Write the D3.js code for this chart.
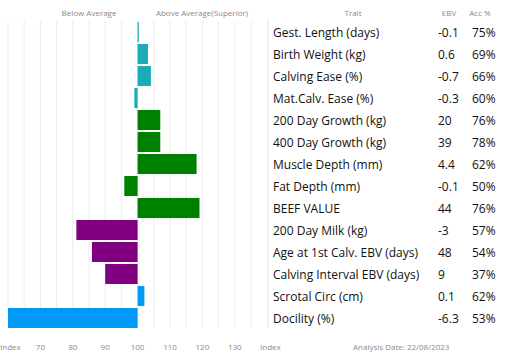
<!DOCTYPE html>
<html>
<head>
  <meta charset="utf-8">
  <script src="https://d3js.org/d3.v7.min.js"></script>
  <style>
    body { margin: 0; background: #fff; }
    text { font-family: "Open Sans", sans-serif; }
    .small { font-size: 8px; fill: #8a8a8a; }
    .trait { font-size: 12px; fill: #111; }
  </style>
</head>
<body>
<svg id="chart" width="522" height="362"></svg>
<script>
// trait names, index values, EBV, accuracy
const traits = ["Gest. Length (days)", "Birth Weight (kg)", "Calving Ease (%)", "Mat.Calv. Ease (%)",
  "200 Day Growth (kg)", "400 Day Growth (kg)", "Muscle Depth (mm)", "Fat Depth (mm)", "BEEF VALUE",
  "200 Day Milk (kg)", "Age at 1st Calv. EBV (days)", "Calving Interval EBV (days)", "Scrotal Circ (cm)", "Docility (%)"];
const indexVals = [100.3, 103.2, 104.1, 99.0, 107.0, 107.0, 118.2, 95.9, 119.1, 81.1, 85.9, 90.0, 102.1, 60.0];
const ebv = ["-0.1", "0.6", "-0.7", "-0.3", "20", "39", "4.4", "-0.1", "44", "-3", "48", "9", "0.1", "-6.3"];
const acc = ["75%", "69%", "66%", "60%", "76%", "78%", "62%", "50%", "76%", "57%", "54%", "37%", "62%", "53%"];
const groups = ["calving", "calving", "calving", "calving", "growth", "growth", "growth", "growth", "growth",
  "maternal", "maternal", "maternal", "other", "other"];
const xTicks = [70, 80, 90, 100, 110, 120, 130];

const colours = { calving: "#1aadb6", growth: "#008000", maternal: "#800080", other: "#0099f5" };

const svg = d3.select("#chart");
const x = d3.scaleLinear().domain([60, 135]).range([8, 251]);
const y = d3.scaleBand().domain(traits).range([21, 329]).paddingInner(0.09).paddingOuter(0.045);

// gridlines every 5
svg.append("g").selectAll("line").data(d3.range(60, 136, 5)).join("line")
  .attr("x1", d => x(d)).attr("x2", d => x(d))
  .attr("y1", 21).attr("y2", 328)
  .attr("stroke", "#ececec").attr("stroke-width", 1);

// bars
svg.append("g").selectAll("rect").data(traits).join("rect")
  .attr("x", (d, i) => x(Math.min(100, indexVals[i])))
  .attr("y", d => y(d))
  .attr("width", (d, i) => Math.max(1.2, Math.abs(x(indexVals[i]) - x(100))))
  .attr("height", y.bandwidth())
  .attr("fill", (d, i) => colours[groups[i]]);

// headers
svg.append("text").attr("class", "small").attr("x", 89).attr("y", 16).attr("text-anchor", "middle").text("Below Average");
svg.append("text").attr("class", "small").attr("x", 202).attr("y", 16).attr("text-anchor", "middle").text("Above Average(Superior)");
svg.append("text").attr("class", "small").attr("x", 353).attr("y", 16).attr("text-anchor", "middle").text("Trait");
svg.append("text").attr("class", "small").attr("x", 449).attr("y", 16).attr("text-anchor", "middle").text("EBV");
svg.append("text").attr("class", "small").attr("x", 480).attr("y", 16).attr("text-anchor", "middle").text("Acc %");

// x axis labels
svg.append("g").selectAll("text").data(xTicks).join("text")
  .attr("class", "small").attr("x", d => x(d)).attr("y", 350).attr("text-anchor", "middle").text(d => d);
svg.append("text").attr("class", "small").attr("x", 0).attr("y", 350).text("Index");
svg.append("text").attr("class", "small").attr("x", 260).attr("y", 350).text("Index");
svg.append("text").attr("class", "small").attr("x", 353).attr("y", 350).text("Analysis Date: 22/08/2023");

// table divider
svg.append("line").attr("x1", 268).attr("x2", 268).attr("y1", 20).attr("y2", 328)
  .attr("stroke", "#e2e2e2");

// table rows
const rows = svg.append("g").selectAll("g").data(traits).join("g")
  .attr("transform", d => "translate(0," + (y(d) + y.bandwidth() / 2 + 4.5) + ")");
rows.append("text").attr("class", "trait").attr("x", 273).text(d => d);
rows.append("text").attr("class", "trait").attr("x", 438).text((d, i) => ebv[i]);
rows.append("text").attr("class", "trait").attr("x", 472).text((d, i) => acc[i]);
</script>
</body>
</html>
